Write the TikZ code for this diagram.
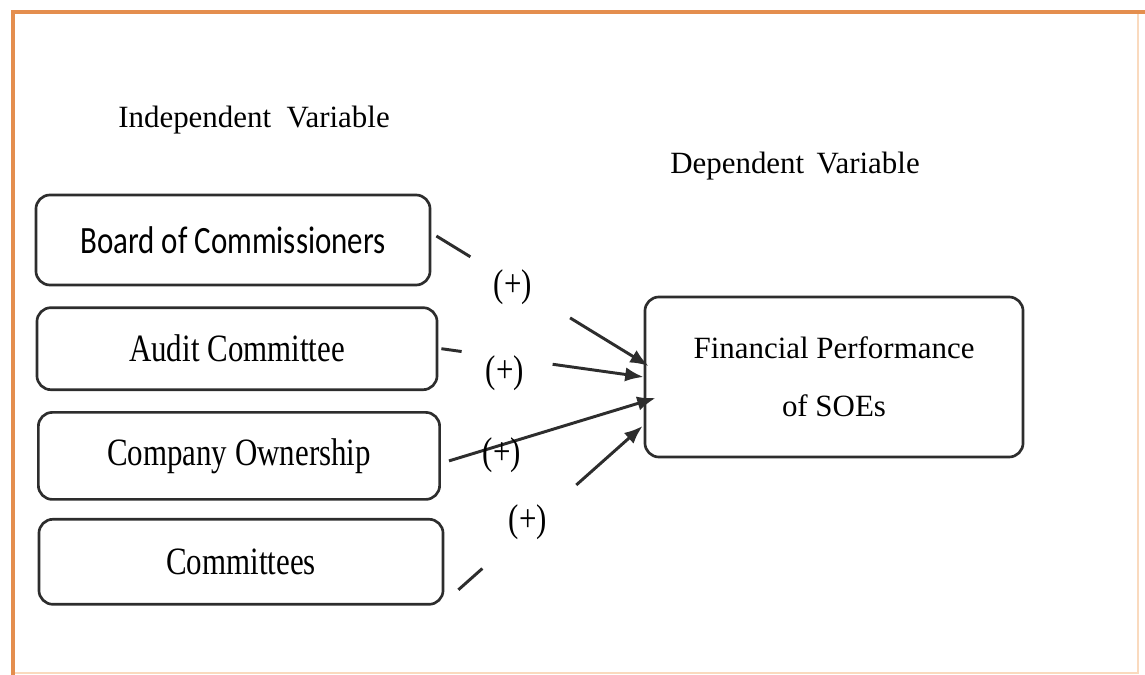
\documentclass[tikz,border=0pt]{standalone}
\usepackage{fontspec}
\setmainfont{Liberation Serif}
\newfontfamily\sansbox{Carlito}
\usetikzlibrary{positioning}
\usetikzlibrary{calc,arrows.meta}
\definecolor{frameorange}{RGB}{228,142,78}
\definecolor{framelight}{RGB}{250,218,190}
\definecolor{boxline}{RGB}{45,45,45}
\newcommand{\tall}[1]{\scalebox{1}[1.25]{#1}}
\tikzstyle{varbox} = [draw=boxline,line width=1.9pt,rounded corners=0.35cm,inner sep=0pt,font=\fontsize{22}{26}\selectfont]
\tikzstyle{link} = [draw=boxline,line width=2.1pt]
\tikzstyle{arrow} = [link,-{Latex[length=4.6mm,width=3.6mm]}]
\tikzstyle{heading} = [font=\fontsize{22}{26}\selectfont]

\begin{document}
\begin{tikzpicture}[x=0.025cm,y=-0.025cm]
	\useasboundingbox (0,0) rectangle (1145,675);

	%Frame
	\draw[framelight,line width=1pt] (1138,12) -- (1138,673) -- (13,673);
	\draw[frameorange,line width=3.5pt] (13,675) -- (13,12) -- (1145,12);

	%Headings
	\node[heading] (indep) at (254,120) {Independent\hspace{0.5em}Variable};
	\node[heading] (dep) at (795,166) {Dependent\hspace{0.4em}Variable};

	%Nodes
	\node[varbox,minimum width=9.85cm,minimum height=2.25cm] (board) at (233,240) {\tall{\sansbox Board of Commissioners}};
	\node[varbox,minimum width=10cm,minimum height=2.05cm,below=0.5cm of board,xshift=0.1cm] (audit) {\tall{Audit Committee}};
	\node[varbox,minimum width=10.03cm,minimum height=2.175cm,below=0.5cm of audit,xshift=0.05cm] (owner) {\tall{Company Ownership}};
	\node[varbox,minimum width=10.1cm,minimum height=2.125cm,below=0.43cm of owner,xshift=0.05cm] (comm) {\tall{Committees}};
	\node[varbox,minimum width=9.45cm,minimum height=4cm,align=center,font=\fontsize{22}{41}\selectfont] (perf) at (834,377) {Financial Performance\\of SOEs};

	%Line ends
	\coordinate (s1) at ($(board.east)+(5,-4)$);
	\coordinate (t1) at ($(perf.west)+(5,-11)$);
	\coordinate (s2) at ($(audit.east)+(3,0)$);
	\coordinate (t2) at (perf.west);
	\coordinate (s3) at ($(owner.east)+(8,5)$);
	\coordinate (t3) at ($(perf.west)+(12,21)$);
	\coordinate (s4) at ($(comm.east)+(14,28)$);
	\coordinate (t4) at ($(perf.west)+(-1,49)$);

	%Lines
	\draw[link] (s1) -- ($(s1)!0.16!(t1)$);
	\draw[arrow] ($(s1)!0.63!(t1)$) -- (t1);
	\draw[link] (s2) -- ($(s2)!0.1!(t2)$);
	\draw[arrow] ($(s2)!0.55!(t2)$) -- (t2);
	\draw[arrow] (s3) -- (t3);
	\draw[link] (s4) -- ($(s4)!0.13!(t4)$);
	\draw[arrow] ($(s4)!0.64!(t4)$) -- (t4);

	%Signs
	\node[heading] (p1) at (513,287) {\tall{(+)}};
	\node[heading] (p2) at (505,373) {\tall{(+)}};
	\node[heading] (p3) at (502,455) {\tall{(+)}};
	\node[heading] (p4) at (528,522) {\tall{(+)}};

\end{tikzpicture}
\end{document}
